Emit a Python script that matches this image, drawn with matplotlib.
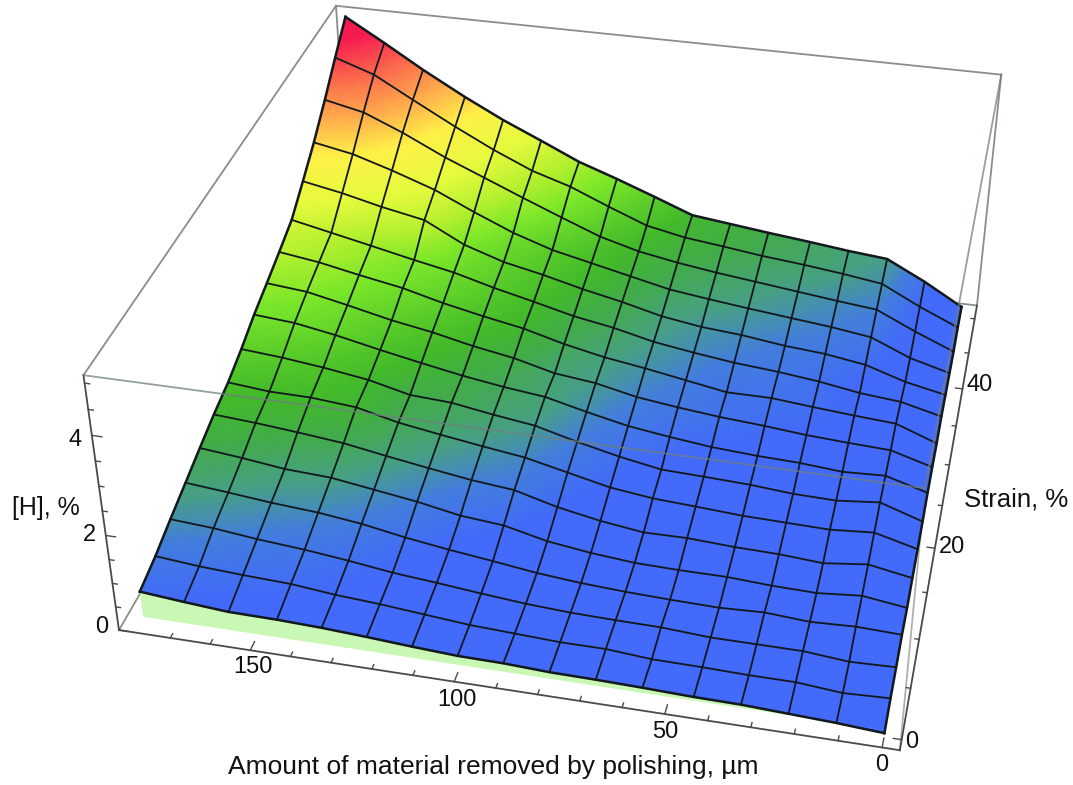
import numpy as np
import matplotlib
matplotlib.use("Agg")
import matplotlib.pyplot as plt
from matplotlib.colors import LinearSegmentedColormap
from mpl_toolkits.mplot3d.art3d import Poly3DCollection

plt.rcParams['font.family'] = ['Liberation Sans', 'DejaVu Sans']

# data
removed = np.array([0, 11, 22, 33, 44, 56, 67, 78, 89, 100, 111, 122, 133, 144, 156, 167, 178], float)
strain = np.array([0, 3.1, 6.2, 9.4, 12.5, 15.6, 18.8, 21.9, 25, 28.1, 31.2, 34.4, 37.5, 40.6, 43.8, 46.9, 50])
hydrogen = np.array([
    [0.08,0.14,0.18,0.22,0.23,0.26,0.28,0.29,0.33,0.34,0.39,0.45,0.50,0.53,0.54,0.61,0.69],
    [0.14,0.10,0.18,0.18,0.20,0.21,0.28,0.28,0.32,0.36,0.44,0.52,0.58,0.67,0.71,0.76,0.84],
    [0.14,0.11,0.19,0.19,0.19,0.25,0.26,0.28,0.33,0.41,0.50,0.58,0.70,0.80,0.88,0.98,1.04],
    [0.17,0.20,0.16,0.22,0.18,0.20,0.23,0.28,0.36,0.48,0.59,0.72,0.88,0.99,1.06,1.15,1.23],
    [0.12,0.24,0.16,0.18,0.23,0.23,0.25,0.33,0.45,0.66,0.74,0.91,1.04,1.17,1.22,1.33,1.42],
    [0.15,0.31,0.20,0.26,0.28,0.33,0.32,0.44,0.61,0.85,0.94,1.07,1.21,1.36,1.46,1.54,1.60],
    [0.16,0.39,0.32,0.34,0.36,0.42,0.47,0.58,0.78,0.98,1.10,1.23,1.37,1.58,1.66,1.67,1.75],
    [0.18,0.47,0.38,0.40,0.47,0.51,0.54,0.70,0.90,1.13,1.25,1.39,1.44,1.65,1.79,1.89,1.96],
    [0.24,0.49,0.45,0.52,0.55,0.61,0.71,0.83,1.02,1.23,1.33,1.46,1.62,1.79,1.99,2.14,2.21],
    [0.25,0.50,0.54,0.59,0.67,0.74,0.83,0.94,1.13,1.23,1.45,1.60,1.79,1.94,2.15,2.33,2.41],
    [0.23,0.55,0.61,0.68,0.76,0.76,0.91,1.06,1.19,1.37,1.60,1.76,1.94,2.16,2.33,2.50,2.62],
    [0.28,0.49,0.57,0.71,0.81,0.89,1.00,1.13,1.33,1.48,1.69,1.89,2.12,2.29,2.49,2.67,2.85],
    [0.24,0.42,0.69,0.82,0.89,1.01,1.08,1.21,1.42,1.60,1.81,1.99,2.27,2.71,2.89,3.09,3.25],
    [0.22,0.45,0.81,0.93,1.02,1.12,1.22,1.33,1.52,1.71,1.90,2.18,2.54,2.93,3.25,3.51,3.67],
    [0.19,0.54,0.93,1.02,1.12,1.23,1.33,1.45,1.60,1.83,2.16,2.50,2.85,3.20,3.64,3.99,4.17],
    [0.25,0.62,1.04,1.16,1.26,1.35,1.46,1.56,1.73,2.06,2.41,2.67,3.04,3.46,3.95,4.41,4.69],
    [0.24,0.72,1.14,1.22,1.32,1.42,1.52,1.62,1.94,2.25,2.54,2.92,3.29,3.71,4.21,4.71,5.19]])
skirt_level = 0.15
removed_ticks = [0, 50, 100, 150]
strain_ticks = [0, 20, 40]
hydrogen_ticks = [0, 2, 4]

x0, x1 = 183, -4
y0, y1 = -1, 52
z0, z1 = 0, 5.15

stops = [(0, '#4169fa'), (.6, '#4169fa'), (.9, '#417ddc'), (1.15, '#46a082'), (1.4, '#41aa4b'), (1.65, '#41b928'),
         (2.25, '#78e628'), (2.6, '#b4f02d'), (3.0, '#e6fa3c'), (3.5, '#fff046'), (3.95, '#ffaa4b'), (4.5, '#fa5a4b'), (4.9, '#f51950'), (5.2, '#f51950')]
cmap = LinearSegmentedColormap.from_list('hyd', [(v / 5.2, c) for v, c in stops])

fig = plt.figure(figsize=(10.73, 7.85), dpi=100)
side = 5664.3 * 0.185
ax = fig.add_axes([48.0 / 1073, -89.1 / 785, side / 1073, side / 785], projection='3d', computed_zorder=False)
ax.set_xlim(x0, x1, view_margin=0)
ax.set_ylim(y0, y1, view_margin=0)
ax.set_zlim(z0, z1, view_margin=0)
ax.view_init(elev=34.168, azim=-77.2633, roll=0.0319)
ax.set_proj_type('persp', focal_length=0.4389)
ax.set_box_aspect((2.5118, 2.5024, 1))
ax.set_axis_off()

# each mesh cell is split up only so the colour runs smoothly across it
n = 10
u = np.linspace(0, 16, 16 * n + 1)
k = np.minimum(u.astype(int), 15)
t = u - k
X = removed[k] * (1 - t) + removed[k + 1] * t
Y = strain[k] * (1 - t) + strain[k + 1] * t
Z = (hydrogen[np.ix_(k, k)] * np.outer(1 - t, 1 - t) + hydrogen[np.ix_(k + 1, k)] * np.outer(t, 1 - t)
     + hydrogen[np.ix_(k, k + 1)] * np.outer(1 - t, t) + hydrogen[np.ix_(k + 1, k + 1)] * np.outer(t, t))
XX, YY = np.meshgrid(X, Y)
Zc = (Z[:-1, :-1] + Z[1:, :-1] + Z[:-1, 1:] + Z[1:, 1:]) / 4
colors = cmap(np.clip(Zc / 5.2, 0, 1))

gray = '#8c8c8c'
dark = '#4a4a4a'


def seg(p, q, c=gray, lw=1.3, z=1, alpha=1):
    ax.plot([p[0], q[0]], [p[1], q[1]], [p[2], q[2]], color=c, lw=lw, zorder=z, alpha=alpha)


# box edges behind the surface
seg((x0, y0, z0), (x0, y1, z0))
seg((x0, y1, z1), (x0, y1, z0))
seg((x1, y1, z0), (x0, y1, z0))
seg((x0, y0, z1), (x0, y1, z1))
seg((x0, y1, z1), (x1, y1, z1))
seg((x1, y1, z1), (x1, y1, z0))
seg((x1, y0, z0), (x1, y0, z1), c='#b0b0b0')
# axes
seg((x0, y0, z0), (x1, y0, z0), c=dark)
seg((x0, y0, z0), (x0, y0, z1), c=dark)
seg((x1, y0, z0), (x1, y1, z0), c=dark)
for v in range(0, 180, 10):
    seg((v, y0, z0), (v, y0 + (0.9 if v % 50 == 0 else 0.45), z0), c=dark, lw=1)
for v in range(0, 55, 5):
    seg((x1, v, z0), (x1 + (1.9 if v % 20 == 0 else 1.0), v, z0), c=dark, lw=1)
for v in np.arange(0, 5.1, .5):
    seg((x0, y0, v), (x0 - (2.4 if v % 2 == 0 else 1.2), y0, v), c=dark, lw=1)

skirt = [[(removed[i], 0, hydrogen[0, i]) for i in range(16, 1, -1)] + [(removed[2], 0, skirt_level), (removed[16], 0, skirt_level)]]
ax.add_collection3d(Poly3DCollection(skirt, facecolors='#c8f8b4', edgecolors='none', zorder=2))
ax.plot_surface(XX, YY, Z, rstride=1, cstride=1, facecolors=colors, shade=False, linewidth=0.5, zorder=3)
for i in range(17):
    ax.plot(np.full(17, removed[i]), strain, hydrogen[:, i], color='#12181c', lw=1.8 if i in (0, 16) else 1.3, zorder=4)
for j in range(17):
    ax.plot(removed, np.full(17, strain[j]), hydrogen[j, :], color='#12181c', lw=1.8 if j in (0, 16) else 1.3, zorder=4)
# top edges show through the surface
seg((x0, y0, z1), (x1, y0, z1), c='#6f7f80', z=5, alpha=.75)
seg((x1, y0, z1), (x1, y1, z1), c='#6f7f80', z=5, alpha=.75)


def label(px, py, txt, size=17):
    fig.text(px / 1073, 1 - py / 785, txt, ha='center', va='center', fontsize=size, color='#111111')


for v, px, py in zip(hydrogen_ticks, [102, 89, 75], [627, 535, 440]):
    label(px, py, str(v))
for v, px, py in zip(removed_ticks, [882, 665, 457, 253], [765, 732, 700, 667]):
    label(px, py, str(v))
for v, px, py in zip(strain_ticks, [912, 952, 980], [742, 547, 385]):
    label(px, py, str(v))
label(46, 508, '[H], %', 18)
label(1016, 499, 'Strain, %', 18.5)
label(493, 767, 'Amount of material removed by polishing, µm', 19)
fig.savefig('out.png')
